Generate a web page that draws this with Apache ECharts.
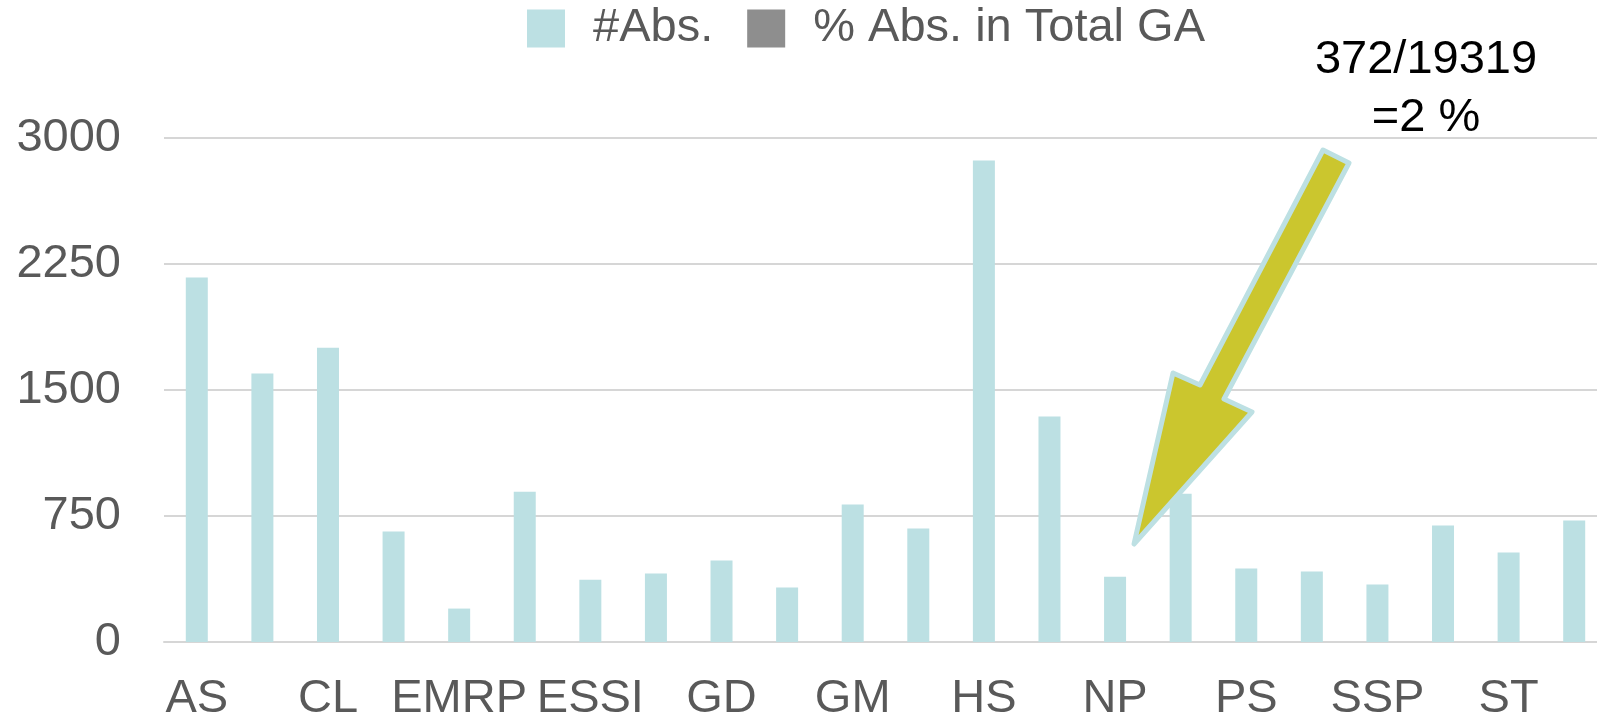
<!DOCTYPE html>
<html>
<head>
<meta charset="utf-8">
<title>Abstracts per division</title>
<script src="https://cdn.jsdelivr.net/npm/echarts@6/dist/echarts.min.js"></script>
<style>
  html, body { margin: 0; padding: 0; background: #fff; }
  #main { width: 1597px; height: 720px; }
</style>
</head>
<body>
<div id="main"></div>
<script>
// divisions (x categories)
var divisions = ['AS', 'BG', 'CL', 'CR', 'EMRP', 'ERE', 'ESSI', 'G', 'GD', 'GI', 'GM',
                 'GMPV', 'HS', 'NH', 'NP', 'OS', 'PS', 'SM', 'SSP', 'SSS', 'ST', 'TS'];
// #Abs. per division
var absCount = [2169, 1598, 1752, 657, 199, 895, 371, 407, 485, 324, 818,
                675, 2866, 1342, 389, 883, 437, 419, 342, 693, 532, 723];
// % Abs. in Total GA - too small to show on this axis, legend only
var absShare = [];
var yTicks = [0, 750, 1500, 2250, 3000];
var noteLines = ['372/19319', '=2 %'];

var FONT = '"Liberation Sans", Arial, Helvetica, sans-serif';
var GREY_TXT = '#595959';

var chart = echarts.init(document.getElementById('main'));

chart.setOption({
    animation: false,
    textStyle: { fontFamily: FONT },
    legend: {
        top: 0,
        left: 522,
        itemWidth: 38,
        itemHeight: 38,
        itemGap: 34,
        icon: 'rect',
        textStyle: { fontSize: 47, color: GREY_TXT, fontFamily: FONT, padding: [0, 0, 0, 23] },
        data: ['#Abs.', '% Abs. in Total GA']
    },
    grid: { left: 164, right: -10, top: 138, bottom: 78, outerBoundsMode: 'none', containLabel: false },
    xAxis: {
        type: 'category',
        data: divisions,
        axisTick: { show: false },
        axisLine: { lineStyle: { color: '#d6d6d6', width: 2 } },
        axisLabel: { interval: 1, margin: 34, fontSize: 47, color: GREY_TXT, fontFamily: FONT }
    },
    yAxis: {
        type: 'value',
        min: yTicks[0],
        max: yTicks[yTicks.length - 1],
        interval: yTicks[1] - yTicks[0],
        axisLine: { show: false },
        axisTick: { show: false },
        splitLine: { lineStyle: { color: '#d6d6d6', width: 2 } },
        axisLabel: {
            margin: 43, fontSize: 47, color: GREY_TXT, fontFamily: FONT,
            formatter: function (v) { return String(v); }
        }
    },
    series: [
        {
            name: '#Abs.',
            type: 'bar',
            stack: 'abs',
            barWidth: 22,
            itemStyle: { color: '#bce0e3' },
            data: absCount
        },
        {
            name: '% Abs. in Total GA',
            type: 'bar',
            stack: 'abs',
            barWidth: 22,
            itemStyle: { color: '#8e8e8e' },
            data: absShare
        }
    ],
    graphic: [
        {
            // callout arrow pointing to NP
            type: 'polygon',
            z: 100,
            shape: {
                points: [[1323, 150], [1349, 163], [1224, 399], [1252, 412],
                         [1134, 544], [1173, 373], [1200, 385]]
            },
            style: { fill: '#cbc62e', stroke: '#bde0e3', lineWidth: 5, lineJoin: 'round' }
        },
        {
            type: 'text',
            z: 100,
            x: 1426,
            y: 31,
            style: {
                text: noteLines.join('\n'),
                font: '47px ' + FONT,
                fill: '#000',
                align: 'center',
                verticalAlign: 'top',
                lineHeight: 58
            }
        }
    ]
});
</script>
</body>
</html>
